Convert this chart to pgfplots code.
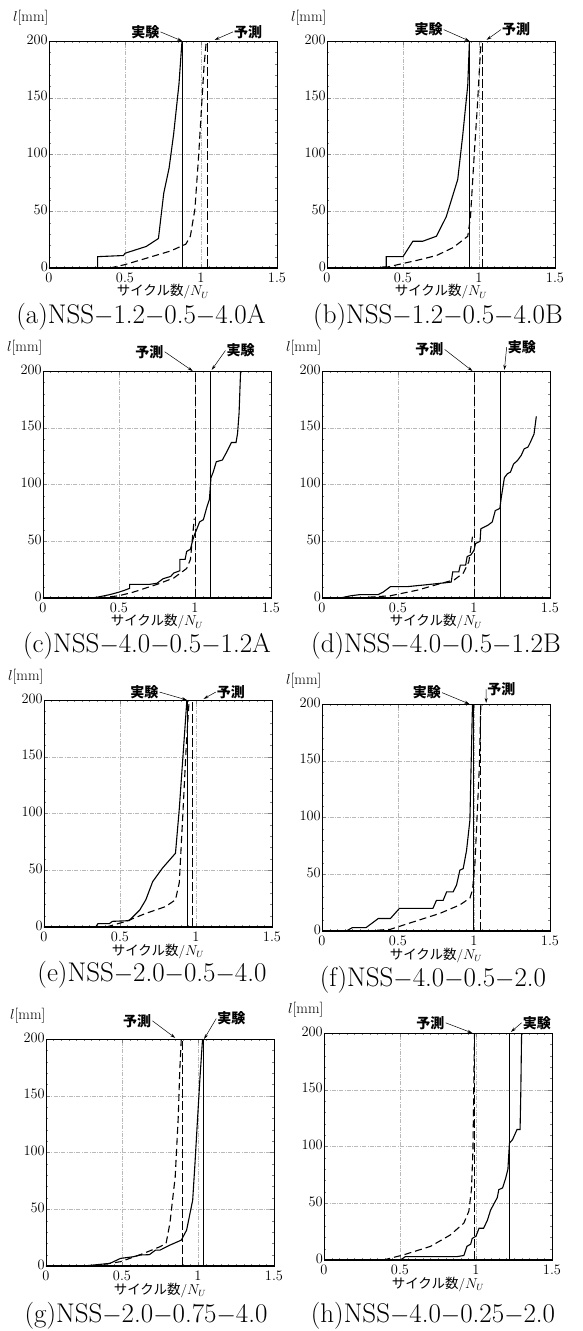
\documentclass[border=0pt]{standalone}
\usepackage{fontspec}
\usepackage{pgfplots}
\pgfplotsset{compat=1.18}
\usetikzlibrary{arrows.meta}
\newfontfamily\jp{Noto Sans CJK JP}

\pgfplotsset{
  panel/.style={
    anchor=south west,
    width=228pt, height=227pt, scale only axis,
    xmin=0, xmax=1.5, ymin=0, ymax=200,
    xtick={0,0.5,1,1.5}, ytick={0,50,100,150,200},
    minor x tick num=9, minor y tick num=4,
    tick align=inside, xtick pos=both, ytick pos=both,
    major tick length=4pt, minor tick length=2pt,
    grid=major,
    major grid style={gray!55, line width=0.4pt,
      dash pattern=on 4pt off 1.5pt on 0.6pt off 1.5pt},
    axis line style={line width=0.6pt},
    tick label style={font=\fontsize{14}{16}\selectfont},
    yticklabel style={inner sep=1pt, yshift=1.5pt},
    xticklabel style={inner sep=1pt, yshift=-4pt},
    scaled ticks=false,
    clip=false,
    xlabel={{\jp サイクル数}/$N_U$},
    every axis x label/.style={at={(axis description cs:0.5,0)}, anchor=center,
      yshift=-24pt, inner sep=0pt, font=\fontsize{13.5}{15}\selectfont},
    ylabel={$l$[mm]},
    every axis y label/.style={at={(axis description cs:0,1)}, anchor=west,
      xshift=-36pt, yshift=23pt, inner sep=0pt, font=\fontsize{15}{17}\selectfont},
  },
  exp/.style={black, line width=1.1pt},
  pre/.style={black, line width=1.1pt, dash pattern=on 7pt off 4pt},
  vexp/.style={black, line width=0.6pt},
  vpre/.style={black, line width=0.8pt, dash pattern=on 9pt off 3pt},
  base/.style={black, line width=1.4pt},
}
\tikzset{
  lab/.style={font=\jp\bfseries\fontsize{14}{16}\selectfont, inner sep=1pt},
  arr/.style={-{Stealth[length=5pt,width=3pt]}, line width=0.5pt},
  captxt/.style={font=\fontsize{27}{30}\selectfont, inner sep=0pt},
}

\begin{document}
\begin{tikzpicture}
\useasboundingbox (0,0) rectangle (583pt,-1331pt);

% (a)
\begin{axis}[panel, at={(49pt,-268pt)}]
\addplot[base] coordinates {(0,0) (1.5,0)};
\addplot[exp] coordinates {(0,0) (0.32,0) (0.32,10) (0.49,11) (0.50,13) (0.64,19) (0.72,26) (0.755,66) (0.79,88) (0.82,118) (0.855,162) (0.875,200)};
\addplot[pre] coordinates {(0.40,0) (0.5,3) (0.6,7) (0.7,11) (0.8,15) (0.9,21) (0.93,28) (0.96,52) (0.985,100) (1.005,145) (1.02,178) (1.035,200)};
\addplot[vexp] coordinates {(0.876,0) (0.876,200)};
\addplot[vpre] coordinates {(1.04,0) (1.04,200)};
\node[lab] (e) at (axis cs:0.634,208) {実験};
\draw[arr] (e.east) -- (axis cs:0.876,200);
\node[lab] (p) at (axis cs:1.31,208) {予測};
\draw[arr] (p.west) -- (axis cs:1.09,201);
\end{axis}

% (b)
\begin{axis}[panel, at={(327pt,-268pt)}]
\addplot[base] coordinates {(0,0) (1.5,0)};
\addplot[exp] coordinates {(0,0) (0.35,0) (0.37,1) (0.39,1) (0.39,10) (0.50,10) (0.565,23.6) (0.63,23.6) (0.72,28) (0.784,45) (0.86,78) (0.893,117) (0.926,161) (0.937,200)};
\addplot[pre] coordinates {(0.37,0) (0.5,4) (0.6,7) (0.72,11) (0.83,18) (0.926,28) (0.944,45) (0.97,103) (0.99,144) (1.003,176) (1.014,200)};
\addplot[vexp] coordinates {(0.937,0) (0.937,200)};
\addplot[vpre] coordinates {(1.02,0) (1.02,200)};
\node[lab] (e) at (axis cs:0.668,210) {実験};
\draw[arr] (e.east) -- (axis cs:0.937,200);
\node[lab] (p) at (axis cs:1.244,210) {予測};
\draw[arr] (p.west) -- (axis cs:1.05,201);
\end{axis}

% (c)
\begin{axis}[panel, at={(43pt,-598pt)}]
\addplot[base] coordinates {(0,0) (1.5,0)};
\addplot[exp] coordinates {(0,0) (0.3,0) (0.35,0.5) (0.44,3) (0.495,5) (0.54,7) (0.57,8.5) (0.57,12) (0.70,12) (0.75,13) (0.79,17) (0.84,19) (0.86,22) (0.90,24) (0.90,34) (0.935,34) (0.945,41) (0.97,43) (0.985,51) (1.0,57) (1.01,60) (1.03,67) (1.055,69) (1.08,81) (1.095,87) (1.105,106) (1.12,111) (1.14,120) (1.18,121.6) (1.21,129) (1.24,137) (1.27,137) (1.28,145) (1.29,163) (1.30,200)};
\addplot[pre] coordinates {(0.37,0) (0.5,2) (0.59,5) (0.75,12) (0.86,17.6) (0.945,26) (0.97,34) (0.995,70)};
\addplot[vexp] coordinates {(1.10,0) (1.10,200)};
\addplot[vpre] coordinates {(1.0,0) (1.0,200)};
\node[lab] (p) at (axis cs:0.70,217) {予測};
\draw[arr] (p.east) -- (axis cs:0.985,200);
\node[lab] (e) at (axis cs:1.30,218) {実験};
\draw[arr] (e.west) -- (axis cs:1.11,201);
\end{axis}

% (d)
\begin{axis}[panel, at={(322pt,-598pt)}]
\addplot[base] coordinates {(0,0) (1.5,0)};
\addplot[exp] coordinates {(0,0) (0.12,0) (0.19,2) (0.25,3) (0.37,3) (0.40,5) (0.45,10) (0.56,10) (0.71,12) (0.85,14) (0.86,23) (0.90,23) (0.91,29) (0.945,29) (0.955,36.5) (0.98,38) (1.0,42) (1.01,48) (1.04,50) (1.045,61) (1.09,64) (1.12,67) (1.14,77) (1.17,79) (1.18,89) (1.20,106) (1.22,109.5) (1.24,111) (1.26,118) (1.285,121) (1.31,125.5) (1.33,131.4) (1.355,133) (1.37,137) (1.395,144.5) (1.41,160)};
\addplot[pre] coordinates {(0.23,0) (0.45,2) (0.63,7) (0.76,12) (0.87,16) (0.93,22) (0.966,32) (0.99,54)};
\addplot[vexp] coordinates {(1.17,0) (1.17,200)};
\addplot[vpre] coordinates {(1.0,0) (1.0,200)};
\node[lab] (p) at (axis cs:0.707,219) {予測};
\draw[arr] (p.east) -- (axis cs:0.99,200);
\node[lab] (e) at (axis cs:1.315,221) {実験};
\draw[arr] (e.west) -- (axis cs:1.20,201);
\end{axis}

% (e)
\begin{axis}[panel, at={(44pt,-927pt)}]
\addplot[base] coordinates {(0,0) (1.5,0)};
\addplot[exp] coordinates {(0,0) (0.34,0) (0.355,3) (0.43,3) (0.45,5) (0.56,5.6) (0.63,15) (0.67,24) (0.715,40) (0.78,52) (0.865,65) (0.89,104) (0.925,171) (0.94,200)};
\addplot[pre] coordinates {(0.41,0) (0.54,5) (0.67,12) (0.80,18) (0.865,24) (0.89,39) (0.913,98) (0.935,157) (0.955,200)};
\addplot[vexp] coordinates {(0.94,0) (0.94,200)};
\addplot[vpre] coordinates {(0.975,0) (0.975,200)};
\node[lab] (e) at (axis cs:0.66,207) {実験};
\draw[arr] (e.east) -- (axis cs:0.94,200);
\node[lab] (p) at (axis cs:1.23,207) {予測};
\draw[arr] (p.west) -- (axis cs:1.05,201);
\end{axis}

% (f)
\begin{axis}[panel, at={(322pt,-931pt)}]
\addplot[base] coordinates {(0,0) (1.5,0)};
\addplot[exp] coordinates {(0,0) (0.16,0) (0.2,3) (0.29,3) (0.37,11) (0.45,11) (0.51,20) (0.73,20) (0.753,27) (0.797,27) (0.82,34.5) (0.863,34.5) (0.885,40.4) (0.907,53.6) (0.929,55) (0.951,71) (0.973,97.5) (0.99,200)};
\addplot[pre] coordinates {(0.29,0) (0.45,1.5) (0.6,8) (0.775,15.5) (0.907,23) (0.973,29) (0.99,36) (1.006,59) (1.02,100) (1.035,144) (1.045,200)};
\addplot[vexp] coordinates {(0.995,0) (0.995,200)};
\addplot[vpre] coordinates {(1.045,0) (1.045,200)};
\node[lab] (e) at (axis cs:0.69,210) {実験};
\draw[arr] (e.east) -- (axis cs:0.97,200);
\node[lab] (p) at (axis cs:1.18,213) {予測};
\draw[arr] (p.west) -- (axis cs:1.08,201);
\end{axis}

% (g)
\begin{axis}[panel, at={(46pt,-1266pt)}]
\addplot[base] coordinates {(0,0) (1.5,0)};
\addplot[exp] coordinates {(0,0) (0.245,0) (0.42,2.3) (0.49,6.7) (0.575,8.2) (0.62,9.7) (0.68,10) (0.72,14) (0.75,14) (0.815,18.4) (0.89,22.8) (0.925,31.6) (0.965,58) (0.98,90) (0.995,125) (1.013,166) (1.03,200)};
\addplot[pre] coordinates {(0.31,0) (0.49,3.8) (0.64,11) (0.75,17) (0.79,20) (0.815,37.5) (0.85,78.5) (0.87,131) (0.88,172) (0.89,200)};
\addplot[vexp] coordinates {(1.035,0) (1.035,200)};
\addplot[vpre] coordinates {(0.9,0) (0.9,200)};
\node[lab] (p) at (axis cs:0.60,216) {予測};
\draw[arr] (p.east) -- (axis cs:0.85,201);
\node[lab] (e) at (axis cs:1.22,218) {実験};
\draw[arr] (e.west) -- (axis cs:1.04,200);
\end{axis}

% (h)
\begin{axis}[panel, at={(324pt,-1260pt)}]
\addplot[base] coordinates {(0,0) (1.5,0)};
\addplot[exp] coordinates {(0,0) (0.50,0) (0.52,1.5) (0.535,3) (0.875,3) (0.92,4) (0.94,12) (0.965,14) (0.975,19) (1.0,21) (1.02,28) (1.05,28) (1.075,35) (1.096,44) (1.12,50) (1.14,55) (1.15,62) (1.175,63.5) (1.195,72) (1.21,80) (1.22,103) (1.24,106) (1.27,115) (1.29,115) (1.295,150) (1.30,200)};
\addplot[pre] coordinates {(0.39,0) (0.52,4.4) (0.70,12) (0.83,22) (0.92,32.5) (0.953,43) (0.97,62) (0.98,97) (0.99,200)};
\addplot[vexp] coordinates {(1.218,0) (1.218,200)};
\addplot[vpre] coordinates {(0.99,0) (0.99,200)};
\node[lab] (p) at (axis cs:0.70,209) {予測};
\draw[arr] (p.east) -- (axis cs:0.976,200);
\node[lab] (e) at (axis cs:1.40,209) {実験};
\draw[arr] (e.west) -- (axis cs:1.23,201);
\end{axis}

\node[captxt] at (141pt,-317pt) {(a)NSS$-$1.2$-$0.5$-$4.0A};
\node[captxt] at (438pt,-317pt) {(b)NSS$-$1.2$-$0.5$-$4.0B};
\node[captxt] at (147pt,-646pt) {(c)NSS$-$4.0$-$0.5$-$1.2A};
\node[captxt] at (436pt,-646pt) {(d)NSS$-$4.0$-$0.5$-$1.2B};
\node[captxt] at (152pt,-975pt) {(e)NSS$-$2.0$-$0.5$-$4.0};
\node[captxt] at (433pt,-980pt) {(f)NSS$-$4.0$-$0.5$-$2.0};
\node[captxt] at (146pt,-1316pt) {(g)NSS$-$2.0$-$0.75$-$4.0};
\node[captxt] at (433pt,-1316pt) {(h)NSS$-$4.0$-$0.25$-$2.0};
\end{tikzpicture}
\end{document}
